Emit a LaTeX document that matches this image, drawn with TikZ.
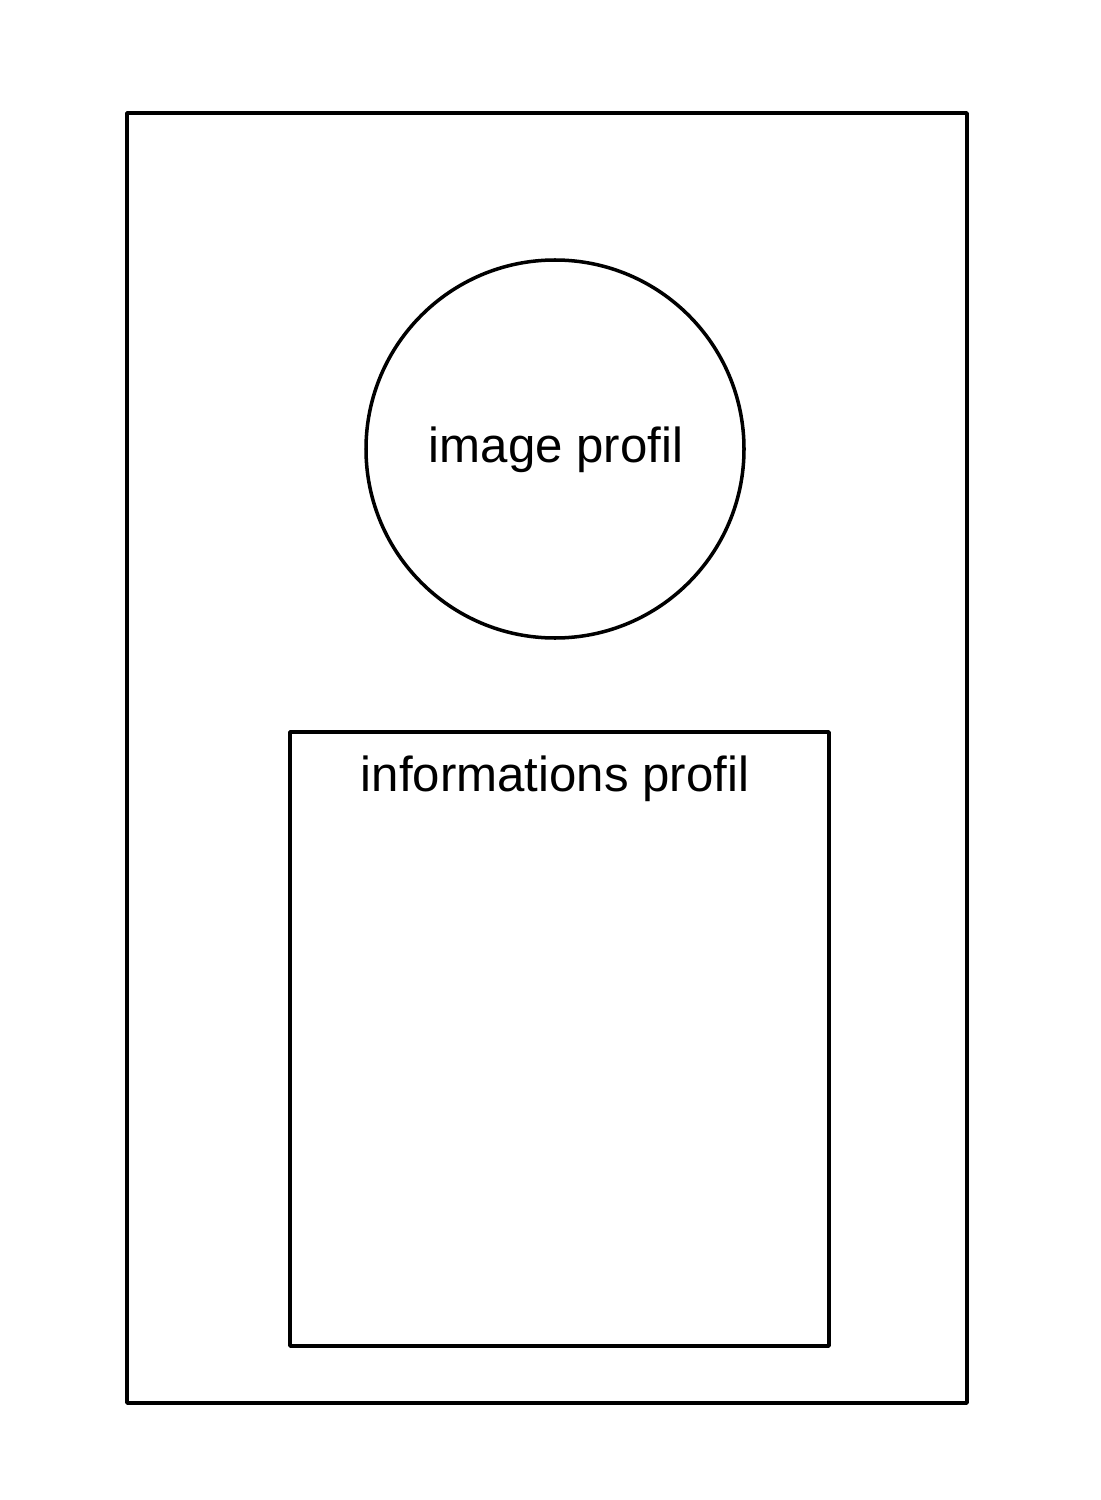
\documentclass[tikz,border=0pt]{standalone}
\usepackage{fontspec}
\setmainfont{Liberation Sans}
\begin{document}
\begin{tikzpicture}[x=0.02cm,y=-0.02cm,
  frame/.style={draw=black,line width=2pt,line join=round},
  lbl/.style={font=\fontsize{28}{33}\selectfont,inner sep=0pt}]
\useasboundingbox (0,0) rectangle (1100,1500);
% page outline
\draw[frame] (127,113) rectangle (967,1403);
% profile picture
\node[frame,circle,minimum size=378*0.02cm,inner sep=0pt] (img) at (555,449) {};
\node[lbl] (imgtxt) at (556,450) {image profil};
% profile details box
\draw[frame] (290,732) rectangle (829,1346);
\coordinate (infotop) at (555,779);
\node[lbl] (infotxt) at (infotop) {informations profil};
\end{tikzpicture}
\end{document}
